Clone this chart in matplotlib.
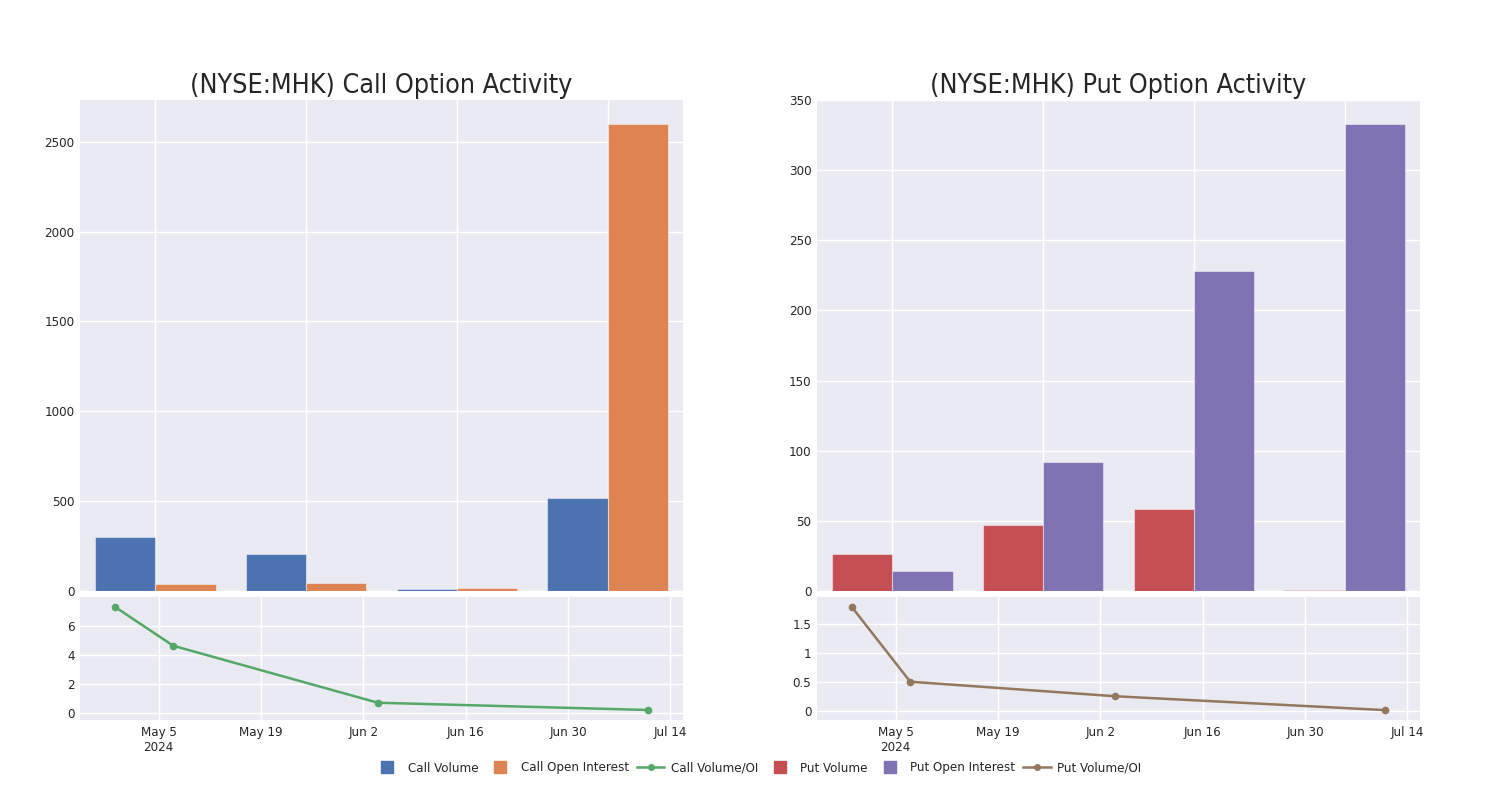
import matplotlib
matplotlib.use("Agg")
import matplotlib.pyplot as plt
import matplotlib.dates as mdates
from matplotlib.lines import Line2D
import numpy as np
import pandas as pd

plt.rcParams['font.family'] = ['Liberation Sans Narrow', 'DejaVu Sans']
plt.rcParams['font.stretch'] = 'condensed'

# ---- data ----
dates = ['2024-04-29', '2024-05-07', '2024-06-04', '2024-07-11']
call_volume = [298, 208, 13, 515]
call_oi = [39, 43, 19, 2597]
call_ratio = [7.31, 4.62, 0.69, 0.19]
put_volume = [26.6, 46.7, 58.6, 0.8]
put_oi = [14.4, 91.7, 228, 333]
put_ratio = [1.80, 0.51, 0.26, 0.02]

date_ticks = ['2024-05-05', '2024-05-19', '2024-06-02', '2024-06-16', '2024-06-30', '2024-07-14']
date_tick_labels = ['May 5\n2024', 'May 19', 'Jun 2', 'Jun 16', 'Jun 30', 'Jul 14']
call_bar_yticks = [0, 500, 1000, 1500, 2000, 2500]
put_bar_yticks = [0, 50, 100, 150, 200, 250, 300, 350]
call_line_yticks = [0, 2, 4, 6]
call_line_ylabels = ['0', '2', '4', '6']
put_line_yticks = [0, 0.5, 1, 1.5]
put_line_ylabels = ['0', '0.5', '1', '1.5']

titles = ['(NYSE:MHK) Call Option Activity', '(NYSE:MHK) Put Option Activity']
legend_labels = ['Call Volume', 'Call Open Interest', 'Call Volume/OI',
                 'Put Volume', 'Put Open Interest', 'Put Volume/OI']

# ---- style ----
BG = '#EAEAF2'
TXT = '#262626'
C_BLUE = '#4C72B0'
C_ORANGE = '#DD8452'
C_GREEN = '#55A868'
C_RED = '#C44E52'
C_PURPLE = '#8172B3'
C_BROWN = '#937860'

W, H = 1500, 800
fig = plt.figure(figsize=(15, 8), dpi=100)


def box(x0, y0, x1, y1):
    return [x0 / W, 1 - y1 / H, (x1 - x0) / W, (y1 - y0) / H]


def style(ax):
    ax.set_facecolor(BG)
    for s in ax.spines.values():
        s.set_visible(False)
    ax.grid(True, color='white', linewidth=1.0)
    ax.set_axisbelow(True)
    ax.tick_params(length=0, labelsize=9.5, colors=TXT, pad=4)


dnum = mdates.date2num(pd.to_datetime(dates))
tnum = mdates.date2num(pd.to_datetime(date_ticks))
xpad = 4.75

panels = [
    (80, 683, call_volume, call_oi, call_ratio, C_BLUE, C_ORANGE, C_GREEN,
     call_bar_yticks, 2732, call_line_yticks, call_line_ylabels, (-0.5, 7.98), titles[0]),
    (817, 1420, put_volume, put_oi, put_ratio, C_RED, C_PURPLE, C_BROWN,
     put_bar_yticks, 350, put_line_yticks, put_line_ylabels, (-0.15, 1.97), titles[1]),
]

x = np.arange(len(dates))
bw = 0.4
for (x0, x1, vol, oi, ratio, cv, co, cl, byt, bymax, lyt, lyl, lylim, title) in panels:
    axb = fig.add_axes(box(x0, 100, x1, 591))
    style(axb)
    axb.bar(x - bw / 2, vol, width=bw, color=cv, edgecolor=(1, 1, 1, 0.45), linewidth=0.8)
    axb.bar(x + bw / 2, oi, width=bw, color=co, edgecolor=(1, 1, 1, 0.45), linewidth=0.8)
    axb.set_xlim(-0.5, len(dates) - 0.5)
    axb.set_xticks(x)
    axb.set_xticklabels([])
    axb.set_ylim(0, bymax)
    axb.set_yticks(byt)
    axb.set_yticklabels([str(v) for v in byt])
    axb.set_title(title, fontsize=19.3, color=TXT, pad=5)

    axl = fig.add_axes(box(x0, 597, x1, 720))
    style(axl)
    axl.plot(dnum, ratio, color=cl, linewidth=1.8, marker='o', markersize=4.5)
    axl.set_xlim(dnum[0] - xpad, dnum[-1] + xpad)
    axl.set_xticks(tnum)
    axl.set_xticklabels(date_tick_labels, fontsize=9.5, color=TXT)
    axl.set_ylim(*lylim)
    axl.set_yticks(lyt)
    axl.set_yticklabels(lyl)

handles = [
    Line2D([], [], linestyle='none', marker='s', markersize=8.5, color=C_BLUE),
    Line2D([], [], linestyle='none', marker='s', markersize=8.5, color=C_ORANGE),
    Line2D([], [], color=C_GREEN, linewidth=1.8, marker='o', markersize=4),
    Line2D([], [], linestyle='none', marker='s', markersize=8.5, color=C_RED),
    Line2D([], [], linestyle='none', marker='s', markersize=8.5, color=C_PURPLE),
    Line2D([], [], color=C_BROWN, linewidth=1.8, marker='o', markersize=4),
]
fig.legend(handles, legend_labels, loc='center', bbox_to_anchor=(0.505, 1 - 768 / H),
           ncol=6, frameon=False, fontsize=9.5, handlelength=2.1, columnspacing=0.6,
           handletextpad=0.5, labelcolor=TXT)

fig.savefig('out.png', dpi=100, facecolor='white')
